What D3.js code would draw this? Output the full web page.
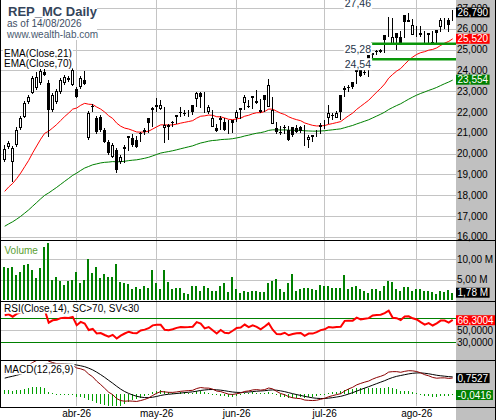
<!DOCTYPE html>
<html>
<head>
<meta charset="utf-8">
<script src="https://cdn.jsdelivr.net/npm/d3@7"></script>
<style>
  body { margin: 0; background: #fff; }
  svg { display: block; font-family: "Liberation Sans", Arial, sans-serif; }
</style>
</head>
<body>
<div id="chart"></div>
<script>
// REP_MC daily bars, 06/03/2026 .. 14/08/2026 (one entry per trading day)
const opens = [19.69,20.32,19.60,20.41,21.23,21.76,22.48,22.91,23.15,23.39,23.92,23.39,22.10,22.48,22.96,23.39,23.54,23.30,
  23.11,23.20,23.54,20.75,22.29,21.71,21.76,21.14,20.56,19.84,20.17,19.60,20.22,20.85,20.75,20.65,20.99,21.04,21.71,
  22.10,22.24,22.15,21.23,21.38,21.52,21.86,22.00,21.95,21.93,22.34,22.63,22.91,22.00,22.00,21.28,21.23,21.62,21.52,21.04,
  21.62,21.71,22.19,22.43,22.24,22.77,22.53,22.10,22.82,22.24,21.42,21.23,21.04,21.23,21.14,21.28,21.23,21.28,20.41,20.65,20.89,21.04,
  21.28,21.52,21.71,21.81,21.71,22.82,23.06,23.15,23.44,24.02,24.02,23.92,24.72,24.86,24.93,24.89,25.70,26.42,25.22,25.80,25.61,26.66,26.33,
  25.70,26.04,25.80,25.37,25.80,25.32,25.94,26.09,26.42,26.42];
const highs = [20.41,20.61,20.37,21.28,21.81,22.53,22.82,23.73,23.92,24.07,24.07,23.54,22.91,23.11,23.64,23.78,23.73,24.12,
  23.20,23.73,23.97,22.05,22.38,21.81,21.86,21.23,20.65,20.51,20.27,19.93,20.41,20.85,20.94,20.85,21.04,21.23,21.57,22.24,
  22.67,22.58,22.24,21.42,21.57,21.86,22.24,22.10,22.10,22.10,22.96,22.96,22.96,22.34,22.10,21.42,21.81,21.71,21.62,21.57,
  22.10,22.19,22.82,22.58,22.77,23.06,22.63,22.67,23.59,22.72,21.52,21.33,21.38,21.33,21.23,21.38,21.33,21.38,20.89,20.89,21.14,21.47,
  21.62,22.34,21.95,22.05,22.29,23.25,23.30,23.30,24.02,24.12,24.12,24.12,24.84,24.98,25.03,25.56,26.57,26.52,25.80,25.89,26.42,26.76,26.47,
  26.13,26.13,25.89,25.80,25.89,25.89,26.52,26.52,26.52,26.90];
const lows = [19.60,20.22,18.63,20.32,21.14,21.71,22.38,22.86,23.06,23.30,23.73,20.80,22.00,22.38,22.86,23.30,23.44,23.25,
  22.67,23.11,23.30,20.65,22.00,20.94,21.04,20.51,19.93,19.79,19.07,19.50,19.55,20.12,20.32,20.27,20.56,20.89,20.99,21.28,
  22.00,22.10,20.51,20.65,21.28,21.42,21.76,21.81,21.76,21.86,22.24,22.19,21.95,21.90,21.62,21.04,21.14,21.09,20.94,20.99,
  21.52,21.66,22.10,22.19,22.14,22.38,21.95,22.00,22.67,21.76,20.94,20.89,20.94,20.60,20.80,20.99,20.99,20.36,20.27,20.56,20.80,20.94,
  21.18,21.42,21.62,21.71,21.62,22.72,22.96,23.11,23.35,23.68,23.78,23.68,24.60,24.74,24.84,24.84,25.61,25.56,24.98,25.27,25.56,26.33,26.09,
  25.61,25.61,25.32,25.32,25.27,25.22,25.85,25.99,25.85,26.37];
const closes = [20.22,20.51,20.27,21.14,21.71,22.43,22.72,23.64,23.68,23.97,23.78,22.10,22.82,23.01,23.54,23.68,23.64,24.02,
  22.72,23.64,23.35,21.95,22.22,21.04,21.14,20.56,20.03,20.41,19.21,19.84,20.32,20.75,20.41,20.32,20.94,21.14,21.47,22.19,
  22.34,22.34,21.38,21.28,21.47,21.76,21.95,21.90,21.93,22.00,22.91,22.72,22.00,22.24,21.71,21.09,21.71,21.14,21.04,21.47,
  22.00,22.10,22.72,22.29,22.67,22.43,22.00,22.58,23.30,22.10,21.04,20.99,21.28,20.65,20.89,21.04,21.09,20.41,20.80,20.80,21.04,21.38,
  21.52,21.95,21.86,21.95,22.00,23.15,23.20,23.20,23.92,23.73,23.88,24.02,24.74,24.89,24.96,25.46,26.42,25.61,25.56,25.32,26.33,26.42,26.18,
  26.04,25.70,25.37,25.70,25.37,25.80,26.42,26.42,26.18,26.79];
// volume in millions of shares
const volumes = [8.1,7.7,8.1,6.1,6.9,8.5,8.9,7.3,5.3,7.7,12.9,14.0,5.0,5.7,4.7,3.7,4.7,4.9,6.9,4.1,4.9,10.0,6.5,8.1,5.3,6.3,
  5.7,5.7,8.7,4.3,4.1,3.9,2.7,3.1,2.8,3.4,3.0,7.2,4.2,2.7,7.2,4.3,2.7,3.0,3.0,1.8,1.4,3.3,3.4,2.2,3.3,3.0,2.3,2.3,3.4,4.1,
  2.0,5.7,2.7,1.8,2.2,2.0,2.2,2.2,1.9,2.0,4.2,4.7,5.1,2.8,2.0,4.1,6.3,2.3,2.6,3.0,3.0,2.6,2.4,3.7,3.4,3.4,3.0,3.0,3.0,6.1,
  2.8,3.1,3.4,2.8,2.3,1.8,2.7,2.6,2.3,3.4,4.6,4.5,2.6,2.2,3.1,3.1,2.3,2.8,2.8,2.3,2.2,1.9,1.4,2.3,2.0,2.4,1.78];

const monthLabels = ["abr-26", "may-26", "jun-26", "jul-26", "ago-26"];
const monthStarts = [18, 38, 58, 80, 103];
const priceTicks = [16, 17, 18, 19, 20, 21, 22, 23, 24, 25, 26, 27];
const volumeTicks = [5, 10];
const rsiTicks = [50, 30];
const rsiBands = [70, 30];
const levelValues = [27.46, 25.28, 24.54];
const levelStart = 92;

// indicator state just before the first bar (history outside the window)
const ema21Seed = 17.98, ema70Seed = 16.40;
const ema12Seed = 18.80, ema26Seed = 17.90, signalSeed = 0.70;
const gainSeed = 0.25, lossSeed = 0.085;

// last values printed on the right axis
const lastClose = 26.79, lastEma21 = 25.52, lastEma70 = 23.554;
const lastVolume = 1.78, lastRsi = 66.3004, lastSignal = 0.7527, lastHist = -0.0416;

const W = 496, H = 420, plotRight = 456;
const n = closes.length;

const locale = d3.formatLocale({decimal: ",", thousands: ".", grouping: [3], currency: ["", ""], minus: "-"});
const fPrice = locale.format(".3f");
const fVol = v => locale.format(".2f")(v) + " M";
const f4 = locale.format(".4f");
const fLevel = locale.format(".2f");

// indicators
const ema = (vals, period, seed) => {
    const k = 2 / (period + 1);
    let e = seed;
    return vals.map(v => (e = e + k * (v - e)));
};
const ema21 = ema(closes, 21, ema21Seed);
const ema70 = ema(closes, 70, ema70Seed);
const ema12 = ema(closes, 12, ema12Seed);
const ema26 = ema(closes, 26, ema26Seed);
const macd = ema12.map((v, i) => v - ema26[i]);
const signal = ema(macd, 9, signalSeed);
const hist = macd.map((v, i) => v - signal[i]);
let ag = gainSeed, al = lossSeed;
const rsi = closes.map((c, i) => {
    if (i > 0) {
        const d = c - closes[i - 1];
        ag = (ag * 13 + Math.max(d, 0)) / 14;
        al = (al * 13 + Math.max(-d, 0)) / 14;
    }
    return 100 - 100 / (1 + ag / al);
});

// scales
const x = d3.scaleBand().domain(d3.range(n)).range([2.7, 454.7]);
const cx = i => x(i) + x.bandwidth() / 2;
const px = i => Math.floor(cx(i));
const yPrice = d3.scaleLinear().domain([16, 27]).range([236.8, 8]);
const yVol = d3.scaleLinear().domain([0, 10]).range([300, 259]);
const yRsi = d3.scaleLinear().domain([0, 100]).range([360, 300]);
const yMacd = d3.scaleLinear().domain([-0.58, 1.6]).range([406.5, 360]);

const panes = [
    {id: "price", top: 0, bottom: 240},
    {id: "volume", top: 240, bottom: 300.5},
    {id: "rsi", top: 300.5, bottom: 360},
    {id: "macd", top: 360, bottom: 406.5}
];

const svg = d3.select("#chart").append("svg").attr("width", W).attr("height", H);
svg.append("rect").attr("width", W).attr("height", H).attr("fill", "#fff");
svg.append("rect").attr("x", plotRight).attr("width", W - plotRight).attr("height", H).attr("fill", "#c0c0c0");

const defs = svg.append("defs");
panes.forEach(p => {
    defs.append("clipPath").attr("id", "clip-" + p.id)
        .append("rect").attr("x", 0).attr("y", p.top).attr("width", plotRight).attr("height", p.bottom - p.top);
});

const grid = svg.append("g").attr("stroke", "#c4c4c4").attr("shape-rendering", "crispEdges");
const hLine = (g, y, color) => g.append("line").attr("x1", 0).attr("x2", plotRight)
    .attr("y1", Math.round(y) + 0.5).attr("y2", Math.round(y) + 0.5).attr("stroke", color);

priceTicks.forEach(v => hLine(grid, yPrice(v), "#c4c4c4"));
volumeTicks.forEach(v => hLine(grid, yVol(v), "#c4c4c4"));
hLine(grid, yRsi(50), "#c4c4c4");
grid.selectAll(".vgrid").data(monthStarts).enter().append("line")
    .attr("x1", i => px(i) + 0.5).attr("x2", i => px(i) + 0.5)
    .attr("y1", 0).attr("y2", 406);

// price pane
const priceG = svg.append("g").attr("clip-path", "url(#clip-price)");
const lineOf = (yScale) => d3.line().x((d, i) => cx(i)).y(d => yScale(d));
priceG.append("path").datum(ema70).attr("d", lineOf(yPrice)).attr("fill", "none").attr("stroke", "#008000").attr("stroke-width", 1);
priceG.append("path").datum(ema21).attr("d", lineOf(yPrice)).attr("fill", "none").attr("stroke", "#ff0000").attr("stroke-width", 1);

const bars = d3.range(n);
const candles = priceG.append("g").attr("shape-rendering", "crispEdges");
candles.selectAll(".wick").data(bars).enter().append("line")
    .attr("x1", i => px(i) + 0.5).attr("x2", i => px(i) + 0.5)
    .attr("y1", i => yPrice(highs[i])).attr("y2", i => yPrice(lows[i]))
    .attr("stroke", "#000");
candles.selectAll(".down").data(bars.filter(i => closes[i] < opens[i])).enter().append("rect")
    .attr("x", i => px(i) - 1).attr("width", 3)
    .attr("y", i => yPrice(opens[i])).attr("height", i => Math.max(1, yPrice(closes[i]) - yPrice(opens[i])))
    .attr("fill", "#000");
candles.selectAll(".up").data(bars.filter(i => closes[i] >= opens[i])).enter().append("rect")
    .attr("x", i => px(i) - 0.5).attr("width", 2)
    .attr("y", i => yPrice(closes[i]) + 0.5).attr("height", i => Math.max(0, yPrice(opens[i]) - yPrice(closes[i]) - 1))
    .attr("fill", "#fff").attr("stroke", "#000");

// support / resistance levels
const levelG = priceG.append("g");
levelG.selectAll("line").data(levelValues).enter().append("line")
    .attr("x1", px(levelStart) - 1).attr("x2", plotRight)
    .attr("y1", d => yPrice(d)).attr("y2", d => yPrice(d))
    .attr("stroke", "#0a960a").attr("stroke-width", 2.5);

function label(g, lx, ly, text, opts = {}) {
    const t = g.append("text").attr("x", lx).attr("y", ly).text(text)
        .attr("font-size", opts.size || 10).attr("fill", opts.color || "#000")
        .attr("text-anchor", opts.anchor || "start")
        .attr("font-weight", opts.bold ? "bold" : null);
    if (opts.bg) {
        const b = t.node().getBBox();
        g.insert("rect", () => t.node()).attr("x", b.x - 1).attr("y", b.y)
            .attr("width", b.width + 2).attr("height", b.height).attr("fill", opts.bg);
    }
    return t;
}
levelValues.forEach(v => label(priceG, px(levelStart) - 1, yPrice(v) + 9, fLevel(v),
    {anchor: "end", color: "#243447", bg: "#fff", size: 10.5}));

// volume pane
const volG = svg.append("g").attr("clip-path", "url(#clip-volume)").attr("shape-rendering", "crispEdges");
volG.selectAll("rect").data(volumes).enter().append("rect")
    .attr("x", (d, i) => px(i) - 1).attr("width", 2)
    .attr("y", d => yVol(d)).attr("height", d => yVol(0) - yVol(d))
    .attr("fill", "#008000");

// rsi pane
const rsiG = svg.append("g").attr("clip-path", "url(#clip-rsi)");
rsiBands.forEach(v => hLine(rsiG, yRsi(v), "#008000"));
rsiG.append("path").datum(rsi).attr("d", lineOf(yRsi)).attr("fill", "none")
    .attr("stroke", "#ff0000").attr("stroke-width", 2);

// macd pane
const macdG = svg.append("g").attr("clip-path", "url(#clip-macd)");
macdG.append("g").attr("shape-rendering", "crispEdges").selectAll("rect").data(hist).enter().append("rect")
    .attr("x", (d, i) => px(i)).attr("width", 1)
    .attr("y", d => Math.min(yMacd(0), yMacd(d)))
    .attr("height", d => Math.max(1, Math.abs(yMacd(d) - yMacd(0))))
    .attr("fill", "#00a000");
macdG.append("path").datum(signal).attr("d", lineOf(yMacd)).attr("fill", "none").attr("stroke", "#000").attr("stroke-width", 1);
macdG.append("path").datum(macd).attr("d", lineOf(yMacd)).attr("fill", "none").attr("stroke", "#8b0000").attr("stroke-width", 1);

// pane labels
const labels = svg.append("g");
const titleG = labels.append("g");
label(titleG, 8, 16, "REP_MC Daily", {size: 13, bold: true, color: "#34445a"});
label(titleG, 7, 27, "as of 14/08/2026", {size: 10, color: "#3e4e63"});
label(titleG, 7, 37.5, "www.wealth-lab.com", {size: 10, color: "#4a5a70"});
titleG.insert("rect", ":first-child").attr("x", 0).attr("y", 0).attr("width", 97).attr("height", 40).attr("fill", "#fff");
label(labels, 4, 56.5, "EMA(Close,21)", {bg: "#fff"});
label(labels, 4, 66.5, "EMA(Close,70)", {bg: "#fff"});
label(labels, 4.5, 253.5, "Volume", {color: "#5a9e32", bg: "#fff"});
label(labels, 4, 311.5, "RSI(Close,14), SC>70, SV<30", {bg: "#fff"});
label(labels, 4, 372.5, "MACD(12,26,9)", {bg: "#fff"});

// right axis
const axisG = svg.append("g");
const tickLabel = (y, text) => axisG.append("text").attr("x", 457).attr("y", y + 3.5)
    .attr("font-size", 10).attr("fill", "#000").text(text);
priceTicks.forEach(v => tickLabel(yPrice(v), fPrice(v)));
volumeTicks.forEach(v => tickLabel(yVol(v), fVol(v)));
rsiTicks.forEach(v => tickLabel(yRsi(v), f4(v)));

function valueBox(y, text, fill) {
    const t = axisG.append("text").attr("x", 457.5).attr("y", y + 3.5)
        .attr("font-size", 10).attr("fill", "#fff").text(text);
    const w = t.node().getComputedTextLength();
    axisG.insert("rect", () => t.node()).attr("x", 456).attr("y", y - 5)
        .attr("width", w + 3).attr("height", 10).attr("fill", fill);
}
valueBox(yPrice(lastClose), fPrice(lastClose), "#000");
valueBox(yPrice(lastEma21), fPrice(lastEma21), "#ff0000");
valueBox(yPrice(lastEma70), fPrice(lastEma70), "#008000");
valueBox(yVol(lastVolume), fVol(lastVolume), "#000");
valueBox(yRsi(lastRsi), f4(lastRsi), "#ff0000");
valueBox(yMacd(lastSignal), f4(lastSignal), "#000");
valueBox(yMacd(lastHist), f4(lastHist), "#008000");

// date axis
svg.append("g").selectAll("text").data(monthStarts).enter().append("text")
    .attr("x", i => cx(i)).attr("y", 417).attr("text-anchor", "middle")
    .attr("font-size", 10).text((d, k) => monthLabels[k]);

// pane borders
const borders = svg.append("g").attr("stroke", "#000").attr("shape-rendering", "crispEdges");
panes.forEach(p => borders.append("line").attr("x1", 0).attr("x2", W)
    .attr("y1", Math.round(p.bottom) + 0.5).attr("y2", Math.round(p.bottom) + 0.5));
borders.append("line").attr("x1", 0.5).attr("x2", 0.5).attr("y1", 0).attr("y2", 407);
borders.append("line").attr("x1", W - 0.5).attr("x2", W - 0.5).attr("y1", 0).attr("y2", H);
</script>
</body>
</html>
